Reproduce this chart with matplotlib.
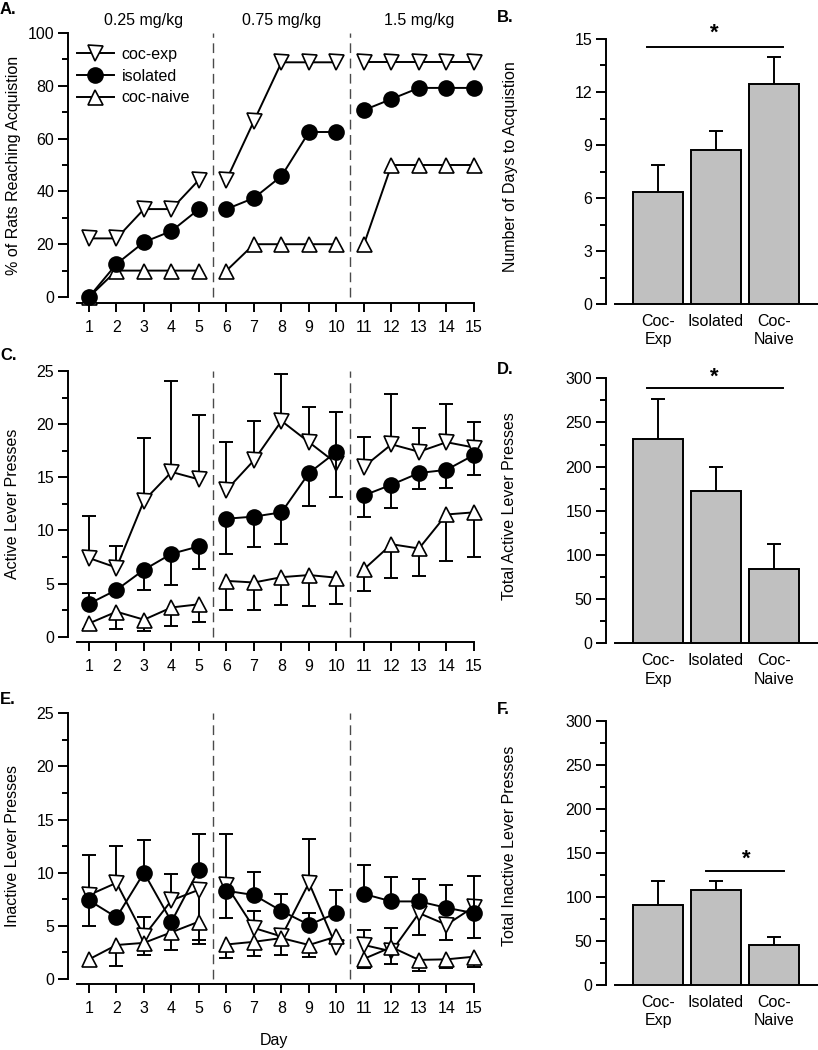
import numpy as np
import matplotlib
matplotlib.use('Agg')
import matplotlib.pyplot as plt
import matplotlib.transforms as mtransforms
from matplotlib.lines import Line2D
from matplotlib.ticker import MultipleLocator

plt.rcParams['font.family'] = ['Liberation Sans', 'DejaVu Sans']

# ---------------- data ----------------
days = list(range(1, 16))
dose_labels = ['0.25 mg/kg', '0.75 mg/kg', '1.5 mg/kg']
dose_centers = [3, 8, 13]
dose_breaks = [5.5, 10.5]
groups = ['coc-exp', 'isolated', 'coc-naive']
bar_labels = ['Coc-\nExp', 'Isolated', 'Coc-\nNaive']

# A. % of rats reaching acquisition
acq_cocexp = [22.2, 22.2, 33.3, 33.3, 44.4, 44.4, 66.7, 88.9, 88.9, 88.9, 88.9, 88.9, 88.9, 88.9, 88.9]
acq_isolated = [0.0, 12.5, 20.8, 25.0, 33.3, 33.3, 37.5, 45.8, 62.5, 62.5, 70.8, 75.0, 79.2, 79.2, 79.2]
acq_cocnaive = [0, 10, 10, 10, 10, 10, 20, 20, 20, 20, 20, 50, 50, 50, 50]

# C. active lever presses (mean, upper error, lower error)
act_cocexp = [7.4, 6.5, 12.8, 15.5, 14.8, 13.8, 16.6, 20.3, 18.3, 16.3, 16.0, 18.1, 17.4, 18.3, 17.8]
act_cocexp_up = [4.0, 2.0, 5.9, 8.6, 6.1, 4.55, 3.7, 4.4, 3.3, 4.8, 2.8, 4.7, 2.2, 3.6, 2.4]
act_cocexp_dn = [0] * 15
act_isolated = [3.1, 4.4, 6.3, 7.8, 8.5, 11.1, 11.3, 11.7, 15.4, 17.4, 13.3, 14.3, 15.4, 15.7, 17.1]
act_isolated_up = [1.0, 0, 0, 0, 0, 0, 0, 0, 0, 0, 0, 0, 0, 0, 0]
act_isolated_dn = [0, 0, 1.9, 2.9, 2.1, 3.3, 2.9, 3.0, 3.1, 4.3, 2.0, 2.2, 1.5, 1.7, 1.9]
act_cocnaive = [1.25, 2.35, 1.6, 2.75, 3.05, 5.25, 5.1, 5.6, 5.8, 5.55, 6.35, 8.7, 8.3, 11.5, 11.7]
act_cocnaive_up = [0] * 15
act_cocnaive_dn = [0.55, 1.65, 1.05, 1.7, 1.65, 2.75, 2.6, 2.6, 2.9, 2.5, 2.05, 3.2, 2.6, 4.4, 4.2]

# E. inactive lever presses
inact_cocexp = [7.9, 9.05, 4.05, 7.4, 8.4, 8.8, 4.8, 4.0, 9.05, 3.0, 3.2, 2.6, 6.2, 5.1, 6.8]
inact_cocexp_up = [3.8, 3.45, 1.8, 2.5, 0, 4.8, 1.6, 0, 4.15, 0, 1.4, 2.2, 0, 0, 0]
inact_cocexp_dn = [0, 0, 0, 0, 5.1, 0, 0, 0, 0, 0, 0, 0, 2.1, 1.4, 2.9]
inact_isolated = [7.4, 5.8, 10.0, 5.4, 10.3, 8.3, 7.9, 6.4, 5.1, 6.2, 8.0, 7.3, 7.3, 6.7, 6.2]
inact_isolated_up = [0, 0, 3.1, 0, 3.3, 0, 2.2, 1.6, 1.1, 2.2, 2.7, 2.3, 2.1, 2.15, 3.5]
inact_isolated_dn = [2.4, 0, 0, 0, 0, 2.6, 0, 0, 0, 0, 0, 0, 0, 0, 0]
inact_cocnaive = [1.85, 3.2, 3.4, 4.4, 5.4, 3.25, 3.5, 3.85, 3.2, 4.0, 1.9, 3.0, 1.8, 1.85, 2.1]
inact_cocnaive_up = [0] * 15
inact_cocnaive_dn = [0, 2.0, 1.15, 1.7, 1.7, 1.25, 1.35, 1.6, 1.1, 0, 0.85, 1.6, 1.0, 0.85, 1.0]

# B, D, F bar data
days_to_acq = [6.33, 8.73, 12.47]
days_to_acq_err = [1.55, 1.04, 1.51]
total_active = [231, 172.5, 84]
total_active_err = [46, 27.5, 28.5]
total_inactive = [91, 108, 45.5]
total_inactive_err = [27, 10.5, 8.5]

# ---------------- figure ----------------
W, H = 818, 1050
fig = plt.figure(figsize=(W / 100, H / 100), dpi=100)
FS = 11.5
LW = 1.4


def px_axes(l, t, r, b):
    return fig.add_axes([l / W, 1 - b / H, (r - l) / W, (b - t) / H])


styles = {
    'coc-exp': dict(marker='v', mfc='white', z=3),
    'isolated': dict(marker='o', mfc='black', z=5),
    'coc-naive': dict(marker='^', mfc='white', z=4),
}
MS = 10.8
segments = [(0, 5), (5, 10), (10, 15)]


def style_axis(ax, ytop, major, minor):
    for s in ['top', 'right']:
        ax.spines[s].set_visible(False)
    ax.spines['left'].set_linewidth(LW)
    ax.spines['bottom'].set_linewidth(LW)
    ax.spines['left'].set_bounds(0, ytop)
    ax.yaxis.set_major_locator(MultipleLocator(major))
    ax.yaxis.set_minor_locator(MultipleLocator(minor))
    ax.tick_params(axis='y', which='major', length=7, width=LW, labelsize=FS, pad=3)
    ax.tick_params(axis='y', which='minor', length=4, width=LW)


def draw_err(ax, x, y, e, sign, z):
    x = np.asarray(x, float); y = np.asarray(y, float); e = np.asarray(e, float)
    m = e > 0
    if not m.any():
        return
    yt = y[m] + sign * e[m]
    ax.vlines(x[m], y[m], yt, colors='k', lw=LW, zorder=z)
    ax.plot(x[m], yt, ls='none', marker='_', ms=9.5, mew=LW, color='k', zorder=z, clip_on=False)


def line_panel(ax, series, ylim_bottom, ytop, major, minor):
    ax.set_xlim(0.2364, 15.2)
    ax.set_ylim(ylim_bottom, ytop)
    style_axis(ax, ytop, major, minor)
    ax.spines['bottom'].set_bounds(0.553, 15)
    ax.set_xticks(days)
    ax.tick_params(axis='x', which='major', length=6.5, width=LW, labelsize=FS, pad=6)
    ax.vlines(dose_breaks, 0, ytop, colors='#4a4a4a', linestyles=(0, (7, 4)), lw=1.0, zorder=1)
    for name, y, up, dn in series:
        st = styles[name]
        z = st['z']
        for a, b in segments:
            ax.plot(days[a:b], y[a:b], color='k', lw=LW, zorder=z)
        if up is not None:
            draw_err(ax, days, y, up, 1, z)
            draw_err(ax, days, y, dn, -1, z)
        ax.plot(days, y, ls='none', marker=st['marker'], ms=MS, mfc=st['mfc'], mec='k',
                mew=1.2, zorder=z + 0.5, clip_on=False)


def bar_panel(ax, vals, errs, ytop, major, minor):
    x = np.arange(3)
    ax.set_xlim(-0.897, 2.759)
    ax.set_ylim(0, ytop)
    style_axis(ax, ytop, major, minor)
    ax.spines['bottom'].set_bounds(-0.741, 2.759)
    ax.bar(x, vals, width=0.862, color='#c0c0c0', edgecolor='k', linewidth=LW, zorder=3)
    draw_err(ax, x, vals, errs, 1, 2)
    ax.set_xticks(x)
    ax.set_xticklabels(bar_labels, fontsize=FS, linespacing=1.3)
    ax.tick_params(axis='x', length=0, pad=7)


# ---- A ----
axA = px_axes(68, 33, 479.5, 303)
line_panel(axA, [('coc-exp', acq_cocexp, None, None),
                 ('coc-naive', acq_cocnaive, None, None),
                 ('isolated', acq_isolated, None, None)], -2.27, 100, 20, 10)
axA.set_ylabel('% of Rats Reaching Acquistion', fontsize=FS)
trA = mtransforms.blended_transform_factory(axA.transData, fig.transFigure)
for c, lab in zip(dose_centers, dose_labels):
    axA.text(c, 1 - 20 / H, lab, transform=trA, ha='center', va='center', fontsize=FS)
handles = [Line2D([], [], color='k', lw=LW, marker=styles[g]['marker'], ms=MS,
                  mfc=styles[g]['mfc'], mec='k', mew=1.2) for g in groups]
axA.legend(handles, groups, loc='upper left', bbox_to_anchor=(77 / W, 1 - 47 / H),
           bbox_transform=fig.transFigure, frameon=False, fontsize=FS, handlelength=2.3,
           handletextpad=0.5, labelspacing=0.42, borderpad=0, borderaxespad=0, numpoints=1)

# ---- C ----
axC = px_axes(68, 371, 479.5, 642)
line_panel(axC, [('coc-exp', act_cocexp, act_cocexp_up, act_cocexp_dn),
                 ('coc-naive', act_cocnaive, act_cocnaive_up, act_cocnaive_dn),
                 ('isolated', act_isolated, act_isolated_up, act_isolated_dn)], -0.5, 25, 5, 2.5)
axC.set_ylabel('Active Lever Presses', fontsize=FS)

# ---- E ----
axE = px_axes(68, 713.3, 479.5, 984)
line_panel(axE, [('coc-exp', inact_cocexp, inact_cocexp_up, inact_cocexp_dn),
                 ('coc-naive', inact_cocnaive, inact_cocnaive_up, inact_cocnaive_dn),
                 ('isolated', inact_isolated, inact_isolated_up, inact_isolated_dn)], -0.47, 25, 5, 2.5)
axE.set_ylabel('Inactive Lever Presses', fontsize=FS)
axE.set_xlabel('Day', fontsize=FS, labelpad=12)

# ---- B ----
axB = px_axes(606, 39, 818, 304)
bar_panel(axB, days_to_acq, days_to_acq_err, 15, 3, 1.5)
axB.set_ylabel('Number of Days to Acquistion', fontsize=FS)
axB.plot([-0.19, 2.16], [14.55, 14.55], color='k', lw=LW, clip_on=False)
axB.text(0.97, 15.35, '*', ha='center', va='center', fontsize=16, fontweight='bold')

# ---- D ----
axD = px_axes(606, 378.3, 818, 643.3)
bar_panel(axD, total_active, total_active_err, 300, 50, 25)
axD.set_ylabel('Total Active Lever Presses', fontsize=FS)
axD.plot([-0.19, 2.16], [288.7, 288.7], color='k', lw=LW, clip_on=False)
axD.text(0.97, 301, '*', ha='center', va='center', fontsize=16, fontweight='bold')

# ---- F ----
axF = px_axes(606, 721, 818, 985)
bar_panel(axF, total_inactive, total_inactive_err, 300, 50, 25)
axF.set_ylabel('Total Inactive Lever Presses', fontsize=FS)
axF.plot([0.83, 2.17], [130, 130], color='k', lw=LW, clip_on=False)
axF.text(1.53, 143, '*', ha='center', va='center', fontsize=16, fontweight='bold')

# ylabel placement (figure pixel coordinates)
for ax, xc, yc in [(axA, 13.5, 165), (axC, 12.5, 504), (axE, 13, 846),
                   (axB, 511, 167), (axD, 509, 506), (axF, 509, 846)]:
    ax.yaxis.label.set(va='center', ha='center', rotation_mode='default')
    ax.yaxis.set_label_coords(xc / W, 1 - yc / H, transform=fig.transFigure)

# panel letters
for lab, x, y in [('A.', 0, 10), ('B.', 497, 18), ('C.', 0, 355), ('D.', 497, 369),
                  ('E.', 0, 700), ('F.', 497, 710)]:
    fig.text(x / W, 1 - y / H, lab, fontsize=12, fontweight='bold', ha='left', va='center')

fig.savefig('out.png', dpi=100)
